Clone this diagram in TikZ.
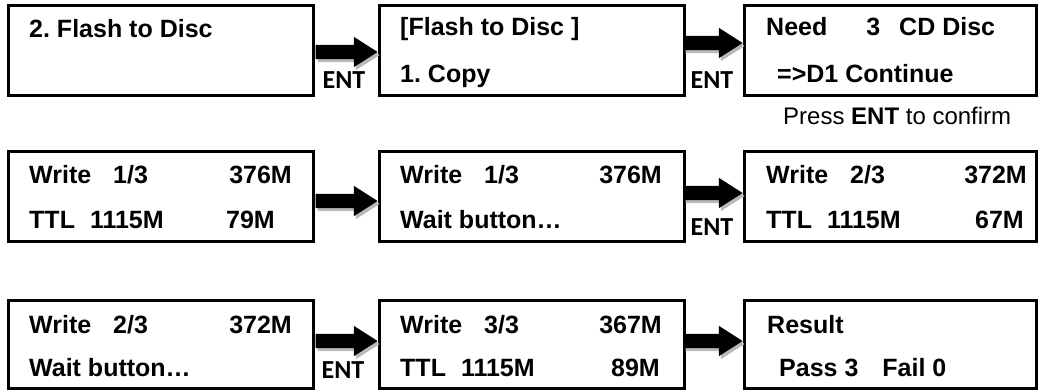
\documentclass[tikz,border=0pt]{standalone}
\usepackage{fontspec}
\setmainfont{Liberation Sans}
\newfontfamily\entfont{Carlito}
\usetikzlibrary{shapes.arrows,shadows}
\frenchspacing

\begin{document}
\begin{tikzpicture}[x=1pt,y=-1pt,
        lcd/.style={draw,line width=3pt,minimum width=305pt,minimum height=90pt,inner sep=0pt},
        lcdtext/.style={anchor=base west,inner sep=0pt,font=\fontsize{25}{30}\selectfont\bfseries},
        lcdnum/.style={lcdtext,anchor=base east},
        entarrow/.style={single arrow,fill=black,inner sep=7pt,minimum height=61pt,
            single arrow head extend=8pt,single arrow tip angle=65,anchor=tip,
            drop shadow={shadow xshift=2pt,shadow yshift=-3pt,fill=gray!55,opacity=1}},
        entlabel/.style={anchor=base,inner sep=0pt,font=\entfont\fontsize{26}{30}\selectfont\bfseries}]
                \useasboundingbox (0,0) rectangle (1041,391);
                %% screens
                \node[lcd] (b11) at (161,50.5) {};
                \node[lcd] (b12) at (532,50.5) {};
                \node[lcd,minimum width=292pt] (b13) at (890.5,50.5) {};
                \node[lcd] (b21) at (161,196.5) {};
                \node[lcd] (b22) at (532,196.5) {};
                \node[lcd,minimum width=292pt] (b23) at (890.5,196.5) {};
                \node[lcd,minimum height=88pt] (b31) at (161,344.5) {};
                \node[lcd,minimum height=88pt] (b32) at (532,344.5) {};
                \node[lcd,minimum width=292pt,minimum height=88pt] (b33) at (890.5,344.5) {};
                %% first row
                \node[lcdtext] (t11) at (29,37) {2. Flash to Disc};
                \node[lcdtext] (t12) at (400,35) {[Flash to Disc ]};
                \node[lcdtext] (t12b) at (400,82) {1. Copy};
                \node[lcdtext] (t13) at (766,35) {Need\hspace{39pt}3\hspace{19pt}CD Disc};
                \node[lcdtext] (t13b) at (777,82) {=>D1 Continue};
                \node[anchor=base west,inner sep=0pt,font=\fontsize{24}{28}\selectfont] (hint) at (783,124) {Press \textbf{ENT} to confirm};
                %% second row
                \node[lcdtext] (t21) at (29,183) {Write\hspace{22pt}1/3};
                \node[lcdnum] (n21) at (292,183) {376M};
                \node[lcdtext] (t21b) at (29,228) {TTL\hspace{15pt}1115M};
                \node[lcdnum] (n21b) at (275,228) {79M};
                \node[lcdtext] (t22) at (400,183) {Write\hspace{22pt}1/3};
                \node[lcdnum] (n22) at (662,183) {376M};
                \node[lcdtext] (t22b) at (400,228) {Wait button…};
                \node[lcdtext] (t23) at (766,183) {Write\hspace{22pt}2/3};
                \node[lcdnum] (n23) at (1027,183) {372M};
                \node[lcdtext] (t23b) at (766,228) {TTL\hspace{15pt}1115M};
                \node[lcdnum] (n23b) at (1024,228) {67M};
                %% third row
                \node[lcdtext] (t31) at (29,333) {Write\hspace{22pt}2/3};
                \node[lcdnum] (n31) at (292,333) {372M};
                \node[lcdtext] (t31b) at (29,376) {Wait button…};
                \node[lcdtext] (t32) at (400,333) {Write\hspace{22pt}3/3};
                \node[lcdnum] (n32) at (662,333) {367M};
                \node[lcdtext] (t32b) at (400,376) {TTL\hspace{15pt}1115M};
                \node[lcdnum] (n32b) at (660,376) {89M};
                \node[lcdtext] (t33) at (767,333) {Result};
                \node[lcdtext] (t33b) at (779,376) {Pass 3\hspace{24pt}Fail 0};
                %% arrows
                \node[entarrow,minimum height=62pt] (a11) at ([yshift=-1.5pt]b12.west) {};
                \node[entarrow,minimum height=59pt] (a12) at ([yshift=7.5pt]b13.west) {};
                \node[entarrow,minimum height=62pt] (a21) at ([yshift=-4.5pt]b22.west) {};
                \node[entarrow,minimum height=59pt] (a22) at ([yshift=3.5pt]b23.west) {};
                \node[entarrow,minimum height=62pt] (a31) at ([yshift=3.5pt]b32.west) {};
                \node[entarrow,minimum height=59pt] (a32) at ([yshift=3.5pt]b33.west) {};
                \node[entlabel] (e11) at (344,88) {ENT};
                \node[entlabel] (e12) at (712,88) {ENT};
                \node[entlabel] (e22) at (712,235) {ENT};
                \node[entlabel] (e31) at (343,378) {ENT};
            \end{tikzpicture}
\end{document}
